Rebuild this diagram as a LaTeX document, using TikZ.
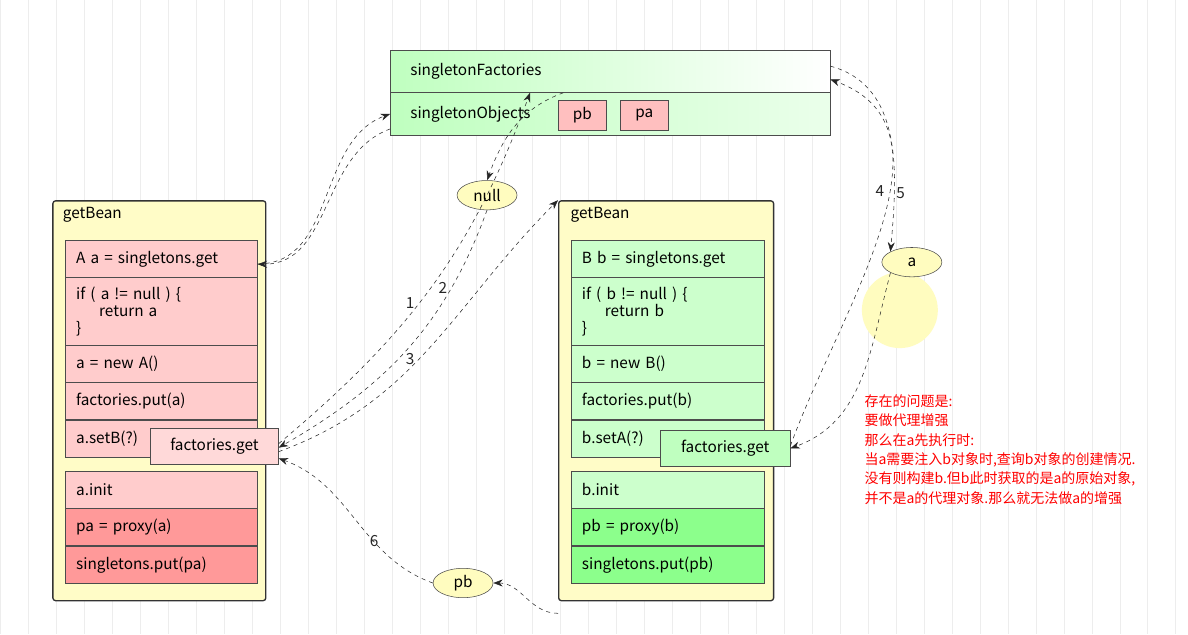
\documentclass[tikz,border=0pt]{standalone}
\usepackage{fontspec}
\setmainfont{Noto Sans CJK SC}
\usetikzlibrary{arrows.meta,positioning,shapes.geometric}
\begin{document}
\begin{tikzpicture}[x=0.75pt,y=-0.75pt]
	\tikzstyle{row} = [rectangle, draw=black!70, anchor=north west, minimum height=27.75pt, text width=128pt, inner xsep=8pt, align=left, font=\fontsize{11.5}{13}\selectfont]
	\tikzstyle{redrow} = [row, fill=red!20, text width=128pt]
	\tikzstyle{darkred} = [row, fill=red!40, text width=128pt]
	\tikzstyle{greenrow} = [row, fill=green!20, text width=129pt]
	\tikzstyle{darkgreen} = [row, fill=green!45, text width=129pt]
	\tikzstyle{bean} = [rectangle, rounded corners=2pt, draw=black!80, line width=1pt, fill=yellow!22, anchor=north west, minimum width=159.75pt, minimum height=300pt]
	\tikzstyle{getbox} = [rectangle, draw=black!70, anchor=north west, minimum height=27pt, font=\fontsize{11.5}{13}\selectfont]
	\tikzstyle{oval} = [ellipse, draw=black!70, fill=yellow!25, minimum width=45pt, minimum height=22pt, inner sep=0pt, font=\fontsize{11.5}{13}\selectfont]
	\tikzstyle{flow} = [dashed, -{Stealth[length=7pt]}, black!85]
	\tikzstyle{num} = [font=\fontsize{11.5}{13}\selectfont]

	% Background grid
	\fill[white] (0,0) rectangle (1188,634);
	\draw[black!7, step=28] (0,0) grid (1188,634);
	\useasboundingbox (0,0) rectangle (1188,634);
	\fill[yellow!25] (900,310) circle [radius=38];

	% Singleton caches
	\node (SF) [row, left color=green!25, right color=white, minimum width=330pt, minimum height=31.5pt, text width=300pt] at (390,50) {singletonFactories};
	\node (SO) [row, left color=green!25, right color=green!8, minimum width=330pt, minimum height=32.25pt, text width=300pt] at (390,92) {singletonObjects};
	\node (PB) [getbox, fill=red!25, minimum width=36pt, minimum height=22.5pt] at (558,100) {pb};
	\node (PA) [getbox, fill=red!25, minimum width=36pt, minimum height=22.5pt] at (620,100) {pa};

	% getBean of A
	\node (BA) [bean] at (52,200) {};
	\node[anchor=north west, num] at (58,202) {getBean};
	\node (A1) [redrow] at (65,240) {A a = singletons.get};
	\node (A2) [redrow, minimum height=51pt] at (65,277) {if ( a != null ) \{\\\hspace*{1.5em}return a\\\}};
	\node (A3) [redrow] at (65,345) {a = new A()};
	\node (A4) [redrow] at (65,382) {factories.put(a)};
	\node (A5) [redrow] at (65,420) {a.setB(?)};
	\node (A6) [redrow] at (65,471) {a.init};
	\node (A7) [darkred] at (65,508) {pa = proxy(a)};
	\node (A8) [darkred] at (65,546) {singletons.put(pa)};
	\node (FA) [getbox, fill=red!15, minimum width=96pt] at (150,428) {factories.get};

	% getBean of B
	\node (BB) [bean, minimum width=161.25pt] at (558,200) {};
	\node[anchor=north west, num] at (566,202) {getBean};
	\node (B1) [greenrow] at (571,240) {B b = singletons.get};
	\node (B2) [greenrow, minimum height=51pt] at (571,277) {if ( b != null ) \{\\\hspace*{1.5em}return b\\\}};
	\node (B3) [greenrow] at (571,345) {b = new B()};
	\node (B4) [greenrow] at (571,382) {factories.put(b)};
	\node (B5) [greenrow] at (571,420) {b.setA(?)};
	\node (B6) [greenrow] at (571,471) {b.init};
	\node (B7) [darkgreen] at (571,508) {pb = proxy(b)};
	\node (B8) [darkgreen] at (571,546) {singletons.put(pb)};
	\node (FB) [getbox, fill=green!25, minimum width=97.5pt] at (660,430) {factories.get};

	% Returned values
	\node (NL) [oval] at (487,195) {null};
	\node (VA) [oval] at (912,262) {a};
	\node (VB) [oval] at (463,583) {pb};

	% Lookups
	\draw[flow] (A1.east) ++(0,5) to[out=0,in=200] (SO.west);
	\draw[flow] (SO.west) ++(0,15) to[out=200,in=0] ([yshift=-4pt]A1.east);
	\draw[flow] ([yshift=2pt]FA.east) to[out=40,in=250] node[num, pos=0.45, left] {1} ([xshift=105pt]SF.south west);
	\draw[flow] ([xshift=130pt]SF.south west) to[out=200,in=70] (NL.north);
	\draw[flow] (NL.south) to[out=250,in=30] node[num, pos=0.25, left] {2} ([yshift=-1pt]FA.east);
	\draw[flow] ([yshift=-4pt]FA.east) to[out=20,in=225] node[num, pos=0.45, left] {3} (BB.north west);
	\draw[flow] ([yshift=2pt]FB.east) to[out=70,in=-20] node[num, pos=0.6, left] {4} ([yshift=-6pt]SF.east);
	\draw[flow] ([yshift=4pt]SF.east) to[out=-15,in=85] node[num, pos=0.75, right=-2pt] {5} (VA.north west);
	\draw[flow] (VA.south west) to[out=255,in=20] (FB.east);
	\draw[flow] ([yshift=-9pt]BB.south west) to[out=180,in=0] (VB.east);
	\draw[flow] (VB.west) to[out=160,in=-20] node[num, pos=0.3, above left=-2pt] {6} ([yshift=-9pt]FA.east);

	% Note
	\node[anchor=north west, text=red, align=left, font=\fontsize{10.5}{14.5}\selectfont] at (860,390) {存在的问题是:\\要做代理增强\\那么在a先执行时:\\当a需要注入b对象时,查询b对象的创建情况.\\没有则构建b.但b此时获取的是a的原始对象,\\并不是a的代理对象.那么就无法做a的增强};
\end{tikzpicture}
\end{document}
